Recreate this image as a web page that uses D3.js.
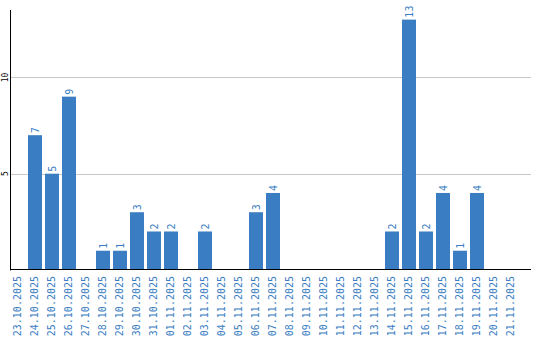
<!DOCTYPE html>
<html>
<head>
<meta charset="utf-8">
<script src="https://cdn.jsdelivr.net/npm/d3@7"></script>
<style>
  body { margin: 0; background: #fff; }
  svg { display: block; }
</style>
</head>
<body>
<svg width="540" height="340" id="svg"></svg>
<script>
  const dates = ["23.10.2025", "24.10.2025", "25.10.2025", "26.10.2025", "27.10.2025",
    "28.10.2025", "29.10.2025", "30.10.2025", "31.10.2025", "01.11.2025", "02.11.2025",
    "03.11.2025", "04.11.2025", "05.11.2025", "06.11.2025", "07.11.2025", "08.11.2025",
    "09.11.2025", "10.11.2025", "11.11.2025", "12.11.2025", "13.11.2025", "14.11.2025",
    "15.11.2025", "16.11.2025", "17.11.2025", "18.11.2025", "19.11.2025", "20.11.2025",
    "21.11.2025"];
  const counts = [0, 7, 5, 9, 0, 1, 1, 3, 2, 2, 0, 2, 0, 0, 3, 4, 0, 0, 0, 0, 0, 0,
    2, 13, 2, 4, 1, 4, 0, 0];
  const yTicks = [5, 10];

  const blue = "#3a7dc2";
  let svg = d3.select("#svg");
  let plot = {left: 11, right: 531, top: 10, bottom: 270};

  const x = d3.scaleBand()
      .domain(dates)
      .range([plot.left, plot.left + dates.length * 17 - 3])
      .paddingInner(3 / 17)
      .paddingOuter(0);

  const y = d3.scaleLinear()
      .domain([0, 13.5])
      .range([plot.bottom, plot.top]);

  const rows = dates.map((d, i) => { return {date: d, value: counts[i]}; })
      .filter((d) => { return d.value > 0; });

  // grid lines
  svg.append("g")
    .selectAll("line")
    .data(yTicks)
    .enter().append("line")
      .attr("x1", plot.left)
      .attr("x2", plot.right)
      .attr("y1", (d) => { return Math.round(y(d)) + 0.5; })
      .attr("y2", (d) => { return Math.round(y(d)) + 0.5; })
      .attr("stroke", "#c8c8c8");

  // bars
  svg.append("g")
    .selectAll("rect")
    .data(rows)
    .enter().append("rect")
      .attr("x", (d) => { return x(d.date); })
      .attr("y", (d) => { return y(d.value); })
      .attr("width", x.bandwidth())
      .attr("height", (d) => { return y(0) - y(d.value); })
      .attr("fill", blue);

  // value labels
  svg.append("g")
    .attr("font-family", "DejaVu Sans Mono, monospace")
    .attr("font-size", 10)
    .attr("fill", blue)
    .selectAll("text")
    .data(rows)
    .enter().append("text")
      .attr("transform", (d) => {
        return "translate(" + (x(d.date) + x.bandwidth() / 2 + 3.5) + "," + (y(d.value) - 2) + ") rotate(-90)";
      })
      .attr("text-anchor", "start")
      .text((d) => { return d.value; });

  // x labels
  svg.append("g")
    .attr("font-family", "DejaVu Sans Mono, monospace")
    .attr("font-size", 10)
    .attr("fill", blue)
    .selectAll("text")
    .data(dates)
    .enter().append("text")
      .attr("transform", (d) => {
        return "translate(" + (x(d) + x.bandwidth() / 2 + 3) + "," + (plot.bottom + 6) + ") rotate(-90)";
      })
      .attr("text-anchor", "end")
      .text((d) => { return d; });

  // y tick labels
  svg.append("g")
    .attr("font-family", "DejaVu Sans Mono, monospace")
    .attr("font-size", 8)
    .attr("fill", "#000")
    .selectAll("text")
    .data(yTicks)
    .enter().append("text")
      .attr("transform", (d) => { return "translate(7.5," + y(d) + ") rotate(-90)"; })
      .attr("text-anchor", "middle")
      .text((d) => { return d; });

  // axis lines
  svg.append("line")
    .attr("x1", plot.left - 0.5).attr("x2", plot.left - 0.5)
    .attr("y1", plot.top).attr("y2", plot.bottom + 0.5)
    .attr("stroke", "#000");
  svg.append("line")
    .attr("x1", plot.left - 1).attr("x2", plot.right)
    .attr("y1", plot.bottom - 0.5).attr("y2", plot.bottom - 0.5)
    .attr("stroke", "#000");
</script>
</body>
</html>
